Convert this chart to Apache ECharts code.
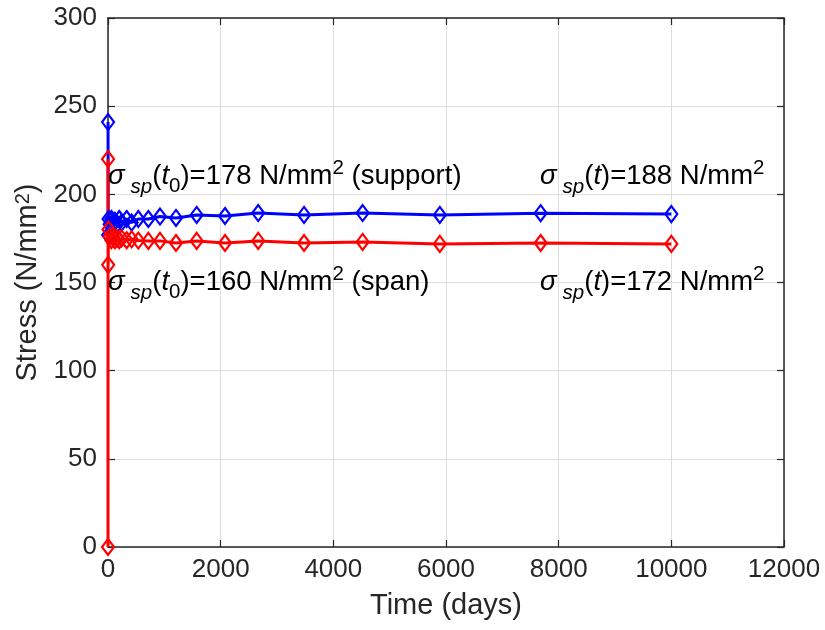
<!DOCTYPE html>
<html><head><meta charset="utf-8">
<script src="https://cdn.jsdelivr.net/npm/echarts@6/dist/echarts.min.js"></script>
<style>html,body{margin:0;padding:0;background:#fff}#c{width:825px;height:630px}</style>
</head><body><div id="c"></div>
<script>
// ---- data ----
const supportTimes  = [1, 3, 10, 30, 60, 90, 124, 163, 200, 243, 331, 420, 538, 716, 923, 1207, 1574, 2077, 2666, 3480, 4520, 5890, 7680, 10000];
const supportStress = [241, 177, 186, 183, 186, 183, 185, 183, 186, 184, 186, 184, 186, 186, 187.4, 186.6, 188.3, 187.7, 189.4, 188.3, 189.4, 188.3, 189.3, 188.8];
const spanTimes  = [0, 1, 3, 10, 30, 60, 90, 124, 163, 200, 243, 331, 420, 538, 716, 923, 1207, 1574, 2077, 2666, 3480, 4520, 5890, 7680, 10000];
const spanStress = [0, 220, 160, 180, 176, 174, 176, 174, 175, 174, 175, 174, 174.5, 173.8, 173.6, 173.6, 172.4, 173.6, 172.4, 173.6, 172.4, 173, 171.9, 172.4, 171.9];
const xRange = [0, 12000], xStep = 2000;
const yRange = [0, 300], yStep = 50;
const xTitle = 'Time (days)';
const yTitle = ['Stress (N/mm', '2', ')'];
const notes = [
  {sub0: true,  val: '178', tail: ' (support)'},
  {sub0: false, val: '188', tail: ''},
  {sub0: true,  val: '160', tail: ' (span)'},
  {sub0: false, val: '172', tail: ''}
];

const FONT = 'Arial, "Liberation Sans", Helvetica, sans-serif';
const AX = '#262626';
const chart = echarts.init(document.getElementById('c'), null, {renderer: 'canvas'});

const pair = (xs, ys) => xs.map((x, i) => [x, ys[i]]);
const plain = v => String(v);

function baseX(show) {
  return {
    type: 'value', min: xRange[0], max: xRange[1], interval: xStep,
    axisLine: {show: true, onZero: false, lineStyle: {color: AX, width: 1.5}},
    axisTick: {show: true, inside: true, length: 7, lineStyle: {color: AX, width: 1.2}},
    axisLabel: {show: show, fontFamily: FONT, fontSize: 26, color: AX, margin: 10, formatter: plain},
    splitLine: {show: show, lineStyle: {color: '#dedede', width: 1}}
  };
}
function baseY(show) {
  return {
    type: 'value', min: yRange[0], max: yRange[1], interval: yStep,
    axisLine: {show: true, onZero: false, lineStyle: {color: AX, width: 1.5}},
    axisTick: {show: true, inside: true, length: 7, lineStyle: {color: AX, width: 1.2}},
    axisLabel: {show: show, fontFamily: FONT, fontSize: 26, color: AX, margin: 11, formatter: plain},
    splitLine: {show: show, lineStyle: {color: '#dedede', width: 1}}
  };
}

const xMain = Object.assign(baseX(true), {
  position: 'bottom', name: xTitle, nameLocation: 'middle', nameGap: 44,
  nameTextStyle: {fontFamily: FONT, fontSize: 29, color: AX}
});
const xTop = Object.assign(baseX(false), {position: 'top'});
const yMain = Object.assign(baseY(true), {
  position: 'left', nameLocation: 'middle', nameGap: 62, nameRotate: 90,
  name: '{m|' + yTitle[0] + '}{s|' + yTitle[1] + '}{m|' + yTitle[2] + '}',
  nameTextStyle: {
    fontFamily: FONT, fontSize: 29, color: AX,
    rich: {
      m: {fontFamily: FONT, fontSize: 29, color: AX, lineHeight: 29},
      s: {fontFamily: FONT, fontSize: 20, color: AX, lineHeight: 20, verticalAlign: 'top'}
    }
  }
});
const yRight = Object.assign(baseY(false), {position: 'right'});

function noteText(n) {
  return '{g|σ}{sb|sp}{n|(}{i|t}' + (n.sub0 ? '{s0|0}' : '') + '{n|)=' + n.val + ' N/mm}{sp|2}' + (n.tail ? '{n|' + n.tail + '}' : '');
}
const L = 42, FS = 27.5, SS = 20.5;
const noteRich = {
  g:  {fontFamily: FONT, fontSize: FS, fontStyle: 'italic', fill: '#000', lineHeight: L},
  n:  {fontFamily: FONT, fontSize: FS, fill: '#000', lineHeight: L},
  i:  {fontFamily: FONT, fontSize: FS, fontStyle: 'italic', fill: '#000', lineHeight: L},
  sb: {fontFamily: FONT, fontSize: SS, fontStyle: 'italic', fill: '#000', lineHeight: SS, verticalAlign: 'bottom', padding: [0, 0, 0, 6]},
  s0: {fontFamily: FONT, fontSize: SS, fill: '#000', lineHeight: SS, verticalAlign: 'bottom'},
  sp: {fontFamily: FONT, fontSize: SS, fill: '#000', lineHeight: SS, verticalAlign: 'top', padding: [3, 0, 0, 0]}
};
const notePos = [[108, 176], [540, 176], [108, 282], [540, 282]];

const graphics = notes.map((n, k) => ({
  type: 'text', left: notePos[k][0], top: notePos[k][1] - L / 2, z: 100,
  style: {text: noteText(n), rich: noteRich, fontFamily: FONT, fontSize: FS, fill: '#000'}
}));

function lineSeries(name, data, color) {
  return {
    name, type: 'line', data, xAxisIndex: 0, yAxisIndex: 0,
    symbol: 'diamond', symbolSize: [12, 16], showSymbol: true,
    lineStyle: {color, width: 3},
    itemStyle: {color: 'rgba(255,255,255,0)', borderColor: color, borderWidth: 2.2},
    emphasis: {disabled: true}, animation: false, clip: false
  };
}

chart.setOption({
  animation: false,
  backgroundColor: '#fff',
  grid: {left: 108, right: 41, top: 18, bottom: 83, containLabel: false},
  xAxis: [xMain, xTop],
  yAxis: [yMain, yRight],
  series: [
    lineSeries('support', pair(supportTimes, supportStress), '#0000ff'),
    lineSeries('span', pair(spanTimes, spanStress), '#ff0000')
  ],
  graphic: graphics
});
</script>
</body></html>
